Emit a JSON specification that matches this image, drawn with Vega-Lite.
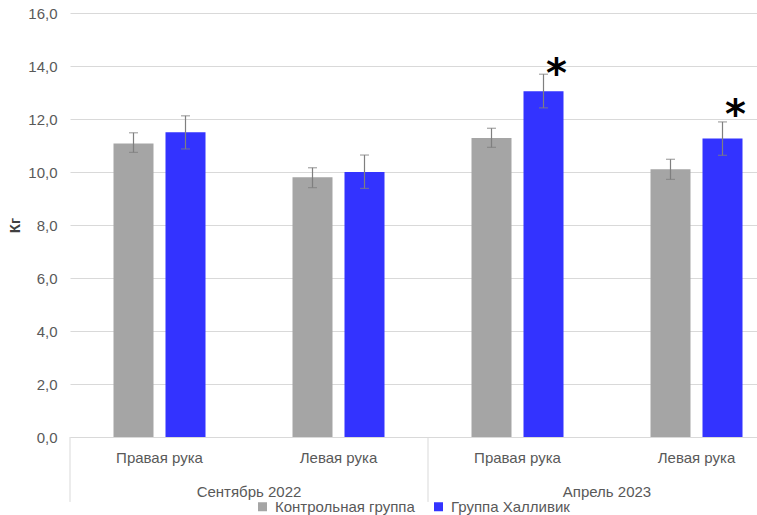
{
  "$schema": "https://vega.github.io/schema/vega-lite/v6.json",
  "width": 687,
  "height": 424,
  "autosize": {"type": "none"},
  "padding": {"left": 70, "top": 13, "right": 0, "bottom": 78},
  "background": "white",
  "config": {
    "font": "Liberation Sans",
    "view": {"stroke": null}
  },
  "data": {
    "values": [
      {"cat": "Сентябрь 2022|Правая рука", "group": "Контрольная группа", "mean": 11.08, "lo": 10.74, "hi": 11.48},
      {"cat": "Сентябрь 2022|Правая рука", "group": "Группа Халливик", "mean": 11.5, "lo": 10.87, "hi": 12.12},
      {"cat": "Сентябрь 2022|Левая рука", "group": "Контрольная группа", "mean": 9.8, "lo": 9.41, "hi": 10.16},
      {"cat": "Сентябрь 2022|Левая рука", "group": "Группа Халливик", "mean": 10.0, "lo": 9.38, "hi": 10.64},
      {"cat": "Апрель 2023|Правая рука", "group": "Контрольная группа", "mean": 11.28, "lo": 10.93, "hi": 11.65},
      {"cat": "Апрель 2023|Правая рука", "group": "Группа Халливик", "mean": 13.05, "lo": 12.42, "hi": 13.69, "star": "*", "star_y": 13.98},
      {"cat": "Апрель 2023|Левая рука", "group": "Контрольная группа", "mean": 10.1, "lo": 9.72, "hi": 10.48},
      {"cat": "Апрель 2023|Левая рука", "group": "Группа Халливик", "mean": 11.26, "lo": 10.63, "hi": 11.89, "star": "*", "star_y": 12.4}
    ]
  },
  "encoding": {
    "x": {
      "field": "cat",
      "type": "nominal",
      "scale": {
        "domain": ["Сентябрь 2022|Правая рука", "Сентябрь 2022|Левая рука", "Апрель 2023|Правая рука", "Апрель 2023|Левая рука"],
        "range": [0, 716],
        "paddingInner": 0,
        "paddingOuter": 0
      },
      "axis": {
        "title": null,
        "ticks": false,
        "labelAngle": 0,
        "labelPadding": 13,
        "labelFontSize": 15,
        "labelColor": "#595959",
        "domainColor": "#D9D9D9",
        "domainWidth": 1,
        "grid": false,
        "labelExpr": "split(datum.label, '|')[1]"
      }
    }
  },
  "layer": [
    {
      "mark": {"type": "bar"},
      "encoding": {
        "xOffset": {"field": "group", "type": "nominal", "scale": {"domain": ["Контрольная группа", "Группа Халливик"], "paddingInner": 0.2308, "paddingOuter": 0.8365}},
        "y": {
          "field": "mean",
          "type": "quantitative",
          "scale": {"domain": [0, 16], "nice": false},
          "axis": {
            "values": [0, 2, 4, 6, 8, 10, 12, 14, 16],
            "title": "Кг",
            "titleFontSize": 15,
            "titleFontWeight": "bold",
            "titleColor": "#404040",
            "titlePadding": 5,
            "labelFontSize": 15,
            "labelColor": "#595959",
            "labelPadding": 13,
            "domain": false,
            "ticks": false,
            "grid": true,
            "gridColor": "#D9D9D9",
            "gridWidth": 1,
            "labelExpr": "replace(format(datum.value, '.1f'), '.', ',')"
          }
        },
        "color": {
          "field": "group",
          "type": "nominal",
          "scale": {"domain": ["Контрольная группа", "Группа Халливик"], "range": ["#A5A5A5", "#3333FF"]},
          "legend": {
            "title": null,
            "orient": "none",
            "legendX": 185,
            "legendY": 486,
            "direction": "horizontal",
            "padding": 0,
            "symbolType": "square",
            "symbolSize": 81,
            "symbolStrokeWidth": 0,
            "labelFontSize": 15,
            "labelColor": "#595959",
            "labelOffset": 5,
            "columnPadding": 16
          }
        }
      }
    },
    {
      "mark": {"type": "rule", "color": "#7F7F7F", "strokeWidth": 1.2},
      "encoding": {
        "xOffset": {"field": "group", "type": "nominal"},
        "y": {"field": "lo", "type": "quantitative"},
        "y2": {"field": "hi"}
      }
    },
    {
      "mark": {"type": "tick", "color": "#7F7F7F", "size": 9, "thickness": 1.2},
      "encoding": {
        "xOffset": {"field": "group", "type": "nominal"},
        "y": {"field": "lo", "type": "quantitative"}
      }
    },
    {
      "mark": {"type": "tick", "color": "#7F7F7F", "size": 9, "thickness": 1.2},
      "encoding": {
        "xOffset": {"field": "group", "type": "nominal"},
        "y": {"field": "hi", "type": "quantitative"}
      }
    },
    {
      "transform": [{"filter": "isValid(datum.star_y)"}],
      "mark": {"type": "text", "font": "DejaVu Sans", "fontWeight": "bold", "fontSize": 40, "color": "black", "baseline": "middle", "dx": 13, "dy": 8},
      "encoding": {
        "xOffset": {"field": "group", "type": "nominal"},
        "y": {"field": "star_y", "type": "quantitative"},
        "text": {"field": "star"}
      }
    },
    {
      "data": {"values": [{"cat": "Сентябрь 2022|Правая рука"}, {"cat": "Апрель 2023|Правая рука"}]},
      "mark": {"type": "rule", "color": "#D9D9D9", "strokeWidth": 1},
      "encoding": {
        "x": {"field": "cat", "type": "nominal", "bandPosition": 0},
        "y": {"datum": 0},
        "y2": {"datum": -2.45}
      }
    },
    {
      "data": {"values": [{"cat": "Сентябрь 2022|Правая рука", "period": "Сентябрь 2022"}, {"cat": "Апрель 2023|Правая рука", "period": "Апрель 2023"}]},
      "mark": {"type": "text", "fontSize": 15, "color": "#595959", "baseline": "alphabetic"},
      "encoding": {
        "x": {"field": "cat", "type": "nominal", "bandPosition": 1},
        "y": {"datum": -2.26},
        "text": {"field": "period"}
      }
    }
  ]
}
